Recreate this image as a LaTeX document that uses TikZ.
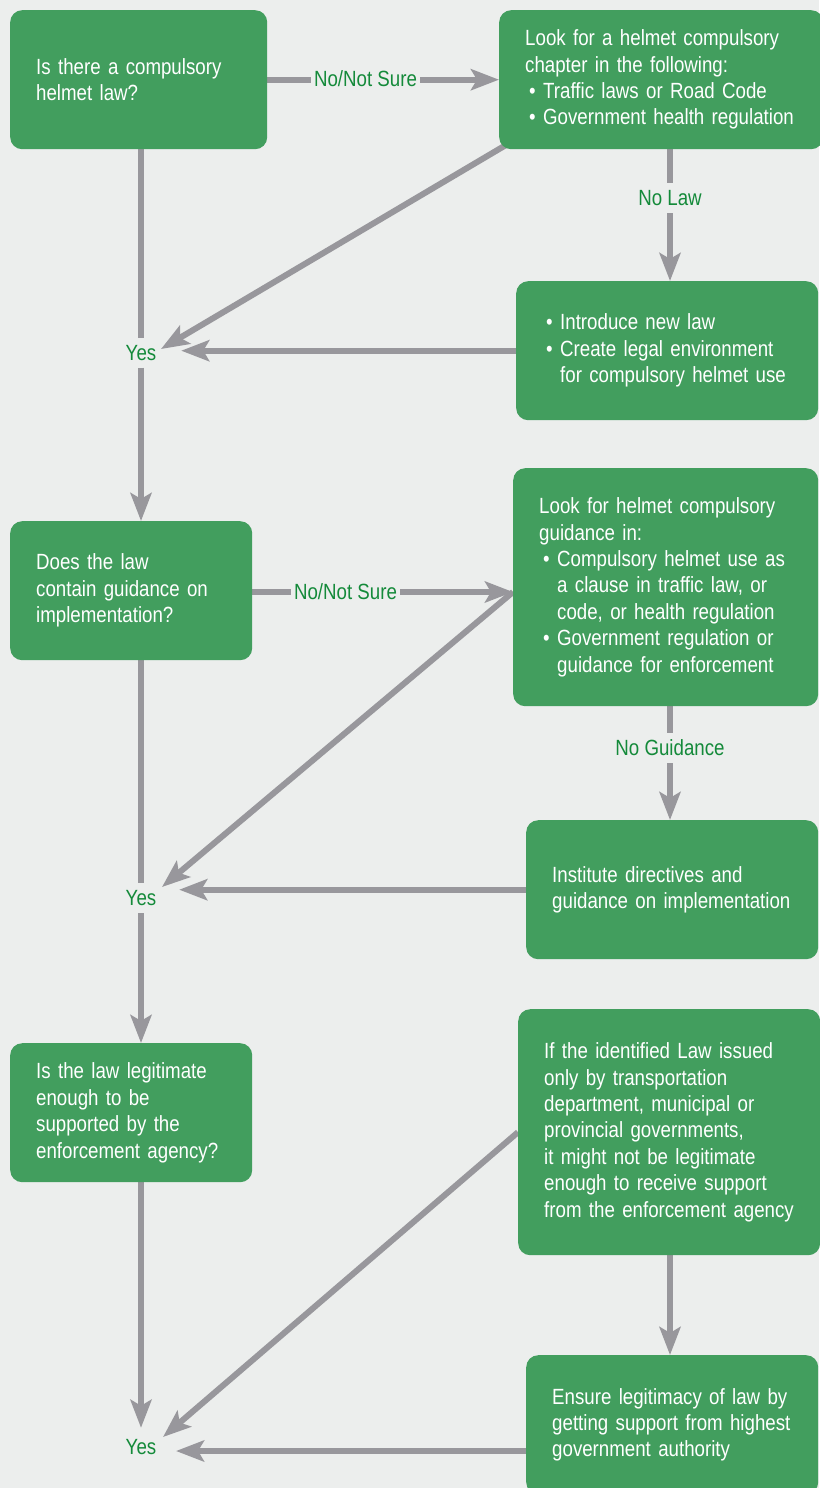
\documentclass[tikz,border=0pt]{standalone}
\usepackage{fontspec}
\setmainfont{Liberation Sans}[FakeStretch=0.85]
\usetikzlibrary{arrows.meta,calc}
\definecolor{bgc}{RGB}{236,238,237}
\definecolor{boxg}{RGB}{66,158,94}
\definecolor{arrg}{RGB}{152,151,156}
\definecolor{lblg}{RGB}{20,138,58}
\pgfdeclarelayer{bglayer}
\pgfdeclarelayer{lines}
\pgfsetlayers{bglayer,lines,main}
\newcommand\bul{\makebox[18pt][l]{\hspace{4pt}•}}
\newcommand\cont{\hspace*{18pt}}
\begin{document}
\begin{tikzpicture}[x=1pt,y=-1pt,
  txt/.style={font=\fontsize{22}{26.4}\selectfont},
  box/.style={txt, fill=boxg, rounded corners=12pt, anchor=north west, text=white, align=left, inner xsep=26pt, inner ysep=0pt},
  yes/.style={txt, text=lblg, inner sep=0pt, minimum width=80pt},
  lbl/.style={txt, text=lblg, fill=bgc, inner xsep=3pt, inner ysep=0pt, minimum height=30pt},
  ln/.style={draw=arrg, line width=6pt},
  arr/.style={ln, -{Stealth[length=28pt,width=21pt,inset=6pt]}}]
\begin{pgfonlayer}{bglayer}
\fill[bgc] (0,0) rectangle (819,1488);
\end{pgfonlayer}
\useasboundingbox (0,0) rectangle (819,1488);

% boxes
\node[box, minimum height=139pt, text width=205pt] (b1) at (10,10) {Is there a compulsory\\helmet law?};
\node[box, minimum height=139pt, text width=272pt] (b2) at (499,10) {Look for a helmet compulsory\\chapter in the following:\\\bul Traffic laws or Road Code\\\bul Government health regulation};
\node[box, minimum height=139pt, text width=250pt] (b3) at (516,281) {\bul Introduce new law\\\bul Create legal environment\\\cont for compulsory helmet use};
\node[box, minimum height=139pt, text width=190pt] (b4) at (10,521) {Does the law\\contain guidance on\\implementation?};
\node[box, minimum height=238pt, text width=253pt] (b5) at (513,468) {Look for helmet compulsory\\guidance in:\\\bul Compulsory helmet use as\\\cont a clause in traffic law, or\\\cont code, or health regulation\\\bul Government regulation or\\\cont guidance for enforcement};
\node[box, minimum height=139pt, text width=240pt] (b6) at (526,820) {Institute directives and\\guidance on implementation};
\node[box, minimum height=139pt, text width=190pt] (b7) at (10,1043) {Is the law legitimate\\enough to be\\supported by the\\enforcement agency?};
\node[box, minimum height=246pt, text width=250pt] (b8) at (518,1009) {If the identified Law issued\\only by transportation\\department, municipal or\\provincial governments,\\it might not be legitimate\\enough to receive support\\from the enforcement agency};
\node[box, minimum height=139pt, text width=240pt] (b9) at (526,1355) {Ensure legitimacy of law by\\getting support from highest\\government authority};

% yes labels
\node[yes, minimum height=29pt] (y1) at (141,353) {Yes};
\node[yes, minimum height=30pt, minimum width=76pt] (y2) at (141,898) {Yes};
\node[yes, minimum height=38pt, minimum width=70pt] (y3) at (141,1447) {Yes};

% edge labels
\node[lbl] (n1) at (365.5,79) {No/Not Sure};
\node[lbl] (n2) at (345.5,592) {No/Not Sure};
\node[lbl] (nl) at (670,198) {No Law};
\node[lbl] (ng) at (670,748) {No Guidance};

\coordinate (cr) at (670,0);
\coordinate (t1) at (161,349);
\coordinate (t2) at (162,887);
\coordinate (t3) at (163,1437);
\coordinate (h3) at (176,1451);

\begin{pgfonlayer}{lines}
\draw[arr] (b1.east) -- (b2.west);
\draw[arr] (b4.east |- n2) -- (b5.west |- n2);
\draw[ln] (b1.south -| y1.north) -- (y1.north);
\draw[arr] (y1.south) -- (y1.south |- b4.north);
\draw[ln] (y1.south |- b4.south) -- (y2.north);
\draw[arr] (y2.south) -- (y2.south |- b7.north);
\draw[arr] (y2.south |- b7.south) -- (y3.north);
\draw[arr] ($(b2.south west)+(8,-5)$) -- (t1);
\draw[arr] (b5.west |- n2) -- (t2);
\draw[arr] (b8.west) -- (t3);
\draw[arr] (b3.west) -- (b3.west -| y1.east);
\draw[arr] (b6.west) -- (b6.west -| y2.east);
\draw[arr] (b9.west |- h3) -- (h3);
\draw[arr] (b2.south -| cr) -- (b3.north -| cr);
\draw[arr] (b5.south -| cr) -- (b6.north -| cr);
\draw[arr] (b8.south -| cr) -- (b9.north -| cr);
\end{pgfonlayer}
\end{tikzpicture}
\end{document}
